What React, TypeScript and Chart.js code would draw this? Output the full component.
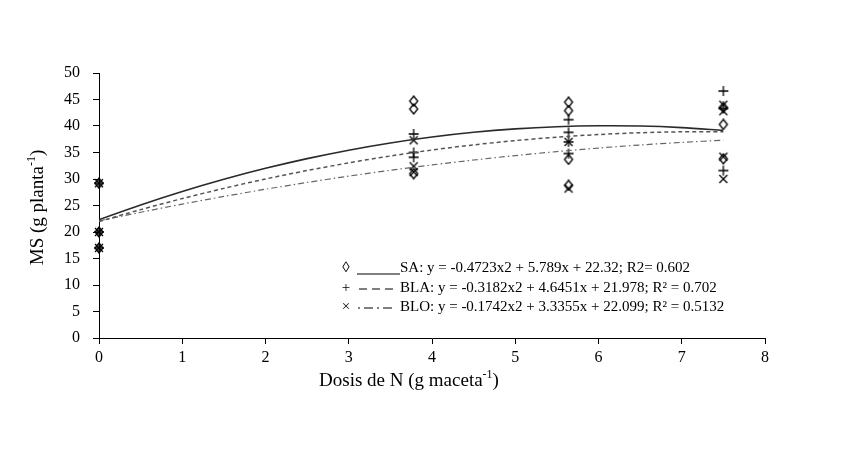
import React, { useEffect, useRef } from 'react';
import { Chart, registerables } from 'chart.js';

Chart.register(...registerables);

// ---- data ----
const xTicks = [0, 1, 2, 3, 4, 5, 6, 7, 8];
const yTicks = [0, 5, 10, 15, 20, 25, 30, 35, 40, 45, 50];

// observed points (dose, MS)
const saObsX = [0, 0, 0, 3.78, 3.78, 3.78, 5.64, 5.64, 5.64, 5.64, 7.5, 7.5, 7.5];
const saObsY = [29.2, 20, 17, 44.7, 43.2, 31.0, 44.5, 42.9, 33.7, 28.8, 43.5, 40.3, 33.8];
const blaObsX = [0, 0, 0, 3.78, 3.78, 3.78, 5.64, 5.64, 5.64, 5.64, 7.5, 7.5, 7.5];
const blaObsY = [29.2, 20, 17, 38.5, 35.0, 34.1, 41.2, 38.8, 37.0, 34.8, 46.6, 43.3, 31.6];
const bloObsX = [0, 0, 0, 3.78, 3.78, 3.78, 5.64, 5.64, 7.5, 7.5, 7.5, 7.5];
const bloObsY = [29.2, 20, 17, 37.3, 32.4, 31.3, 37.0, 28.2, 44.0, 42.8, 34.2, 30.0];

// fitted curves
const curveX = [0, 0.5, 1, 1.5, 2, 2.5, 3, 3.5, 4, 4.5, 5, 5.5, 6, 6.5, 7, 7.5];
const saFit = [22.32, 25.1, 27.64, 29.94, 32.01, 33.84, 35.44, 36.8, 37.92, 38.81, 39.46, 39.87, 40.05, 40.0, 39.7, 39.17];
const blaFit = [21.98, 24.22, 26.31, 28.23, 30.0, 31.6, 33.05, 34.34, 35.47, 36.44, 37.25, 37.9, 38.39, 38.73, 38.9, 38.92];
const bloFit = [22.1, 23.72, 25.26, 26.71, 28.07, 29.35, 30.54, 31.64, 32.65, 33.58, 34.42, 35.17, 35.84, 36.42, 36.91, 37.32];

const legendLabels = [
  'SA: y = -0.4723x2 + 5.789x + 22.32; R2= 0.602',
  'BLA: y = -0.3182x2 + 4.6451x + 21.978; R² = 0.702',
  'BLO: y = -0.1742x2 + 3.3355x + 22.099; R² = 0.5132',
];
const legendMarkers = ['\u25CA', '+', '\u00D7'];

const FONT = '"Liberation Serif", "Times New Roman", serif';

function zip(xs: number[], ys: number[]) {
  return xs.map((x, i) => ({ x, y: ys[i] }));
}

function makeMarker(kind: string): HTMLCanvasElement {
  const c = document.createElement('canvas');
  c.width = 12;
  c.height = 12;
  const g = c.getContext('2d')!;
  g.strokeStyle = '#000';
  g.lineWidth = 1.3;
  g.beginPath();
  if (kind === 'diamond') {
    g.moveTo(6, 1);
    g.lineTo(10, 6);
    g.lineTo(6, 11);
    g.lineTo(2, 6);
    g.closePath();
  } else if (kind === 'plus') {
    g.moveTo(6, 1);
    g.lineTo(6, 11);
    g.moveTo(1, 6);
    g.lineTo(11, 6);
  } else {
    g.moveTo(2, 2);
    g.lineTo(10, 10);
    g.moveTo(10, 2);
    g.lineTo(2, 10);
  }
  g.stroke();
  return c;
}

function drawRich(
  ctx: CanvasRenderingContext2D,
  base: string,
  sup: string,
  tail: string,
  cx: number,
  cy: number,
  size: number
) {
  const supSize = Math.round(size * 0.62);
  ctx.font = `${size}px ${FONT}`;
  const w1 = ctx.measureText(base).width;
  const w3 = ctx.measureText(tail).width;
  ctx.font = `${supSize}px ${FONT}`;
  const w2 = ctx.measureText(sup).width;
  const total = w1 + w2 + w3;
  let x = cx - total / 2;
  ctx.textBaseline = 'middle';
  ctx.textAlign = 'left';
  ctx.fillStyle = '#000';
  ctx.font = `${size}px ${FONT}`;
  ctx.fillText(base, x, cy);
  x += w1;
  ctx.font = `${supSize}px ${FONT}`;
  ctx.fillText(sup, x, cy - size * 0.33);
  x += w2;
  ctx.font = `${size}px ${FONT}`;
  ctx.fillText(tail, x, cy);
}

const annotPlugin = {
  id: 'annot',
  afterDraw(chart: any) {
    const ctx: CanvasRenderingContext2D = chart.ctx;
    const area = chart.chartArea;
    ctx.save();
    // x title
    drawRich(ctx, 'Dosis de N (g maceta', '-1', ')', (area.left + area.right) / 2 - 23, area.bottom + 43, 19);
    // y title
    ctx.save();
    ctx.translate(area.left - 61, (area.top + area.bottom) / 2 + 2);
    ctx.rotate(-Math.PI / 2);
    drawRich(ctx, 'MS (g planta', '-1', ')', 0, 0, 19);
    ctx.restore();

    // legend
    const lx = area.left + 244;
    const rows = [area.top + 195, area.top + 215, area.top + 234];
    ctx.textBaseline = 'middle';
    for (let i = 0; i < 3; i++) {
      const y = rows[i];
      ctx.fillStyle = '#000';
      ctx.textAlign = 'center';
      ctx.font = `15px ${FONT}`;
      ctx.fillText(legendMarkers[i], lx + 3, y);
      ctx.strokeStyle = '#000';
      ctx.lineWidth = 1.2;
      ctx.beginPath();
      if (i === 0) {
        ctx.setLineDash([]);
        ctx.moveTo(lx + 14, y + 6);
        ctx.lineTo(lx + 57, y + 6);
      } else if (i === 1) {
        ctx.setLineDash([8, 5]);
        ctx.moveTo(lx + 16, y + 1);
        ctx.lineTo(lx + 51, y + 1);
      } else {
        ctx.setLineDash([2, 4, 9, 4]);
        ctx.moveTo(lx + 15, y + 1);
        ctx.lineTo(lx + 53, y + 1);
      }
      ctx.stroke();
      ctx.setLineDash([]);
      ctx.textAlign = 'left';
      ctx.font = `15px ${FONT}`;
      ctx.fillText(legendLabels[i], lx + 57, y);
    }
    ctx.restore();
  },
};

export default function App() {
  const ref = useRef<HTMLCanvasElement>(null);
  useEffect(() => {
    if (!ref.current) return;
    const diamond = makeMarker('diamond');
    const plus = makeMarker('plus');
    const cross = makeMarker('cross');
    const chart = new Chart(ref.current, {
      type: 'scatter',
      data: {
        datasets: [
          {
            label: 'SA fit',
            data: zip(curveX, saFit),
            showLine: true,
            borderColor: '#2a2a2a',
            borderWidth: 1.6,
            pointRadius: 0,
            tension: 0.3,
          },
          {
            label: 'BLA fit',
            data: zip(curveX, blaFit),
            showLine: true,
            borderColor: '#555',
            borderWidth: 1.5,
            borderDash: [4, 3],
            pointRadius: 0,
            tension: 0.3,
          },
          {
            label: 'BLO fit',
            data: zip(curveX, bloFit),
            showLine: true,
            borderColor: '#666',
            borderWidth: 1.2,
            borderDash: [6, 3, 1.5, 3],
            pointRadius: 0,
            tension: 0.3,
          },
          {
            label: 'SA',
            data: zip(saObsX, saObsY),
            pointStyle: diamond as any,
            pointRadius: 6,
            clip: false as any,
          },
          {
            label: 'BLA',
            data: zip(blaObsX, blaObsY),
            pointStyle: plus as any,
            pointRadius: 6,
            clip: false as any,
          },
          {
            label: 'BLO',
            data: zip(bloObsX, bloObsY),
            pointStyle: cross as any,
            pointRadius: 6,
            clip: false as any,
          },
        ],
      },
      options: {
        animation: false,
        responsive: true,
        maintainAspectRatio: false,
        layout: { padding: { left: 0, top: 73, right: 77, bottom: 0 } },
        plugins: { legend: { display: false }, tooltip: { enabled: false } },
        scales: {
          x: {
            type: 'linear',
            min: 0,
            max: 8,
            afterFit: (s: any) => {
              s.height = 126;
            },
            afterBuildTicks: (s: any) => {
              s.ticks = xTicks.map((v) => ({ value: v }));
            },
            ticks: { color: '#000', font: { family: FONT, size: 16 }, padding: 4, maxRotation: 0 },
            grid: { drawOnChartArea: false, color: '#000', tickLength: 6 },
            border: { color: '#000', width: 1 },
          },
          y: {
            type: 'linear',
            min: 0,
            max: 50,
            afterFit: (s: any) => {
              s.width = 99;
            },
            afterBuildTicks: (s: any) => {
              s.ticks = yTicks.map((v) => ({ value: v }));
            },
            ticks: { color: '#000', font: { family: FONT, size: 16 }, padding: 13 },
            grid: { drawOnChartArea: false, color: '#000', tickLength: 6 },
            border: { color: '#000', width: 1 },
          },
        },
      },
      plugins: [annotPlugin],
    });
    return () => chart.destroy();
  }, []);
  return (
    <div style={{ position: 'absolute', left: 0, top: 0, width: 842, height: 464, background: '#fff' }}>
      <canvas ref={ref} />
    </div>
  );
}
